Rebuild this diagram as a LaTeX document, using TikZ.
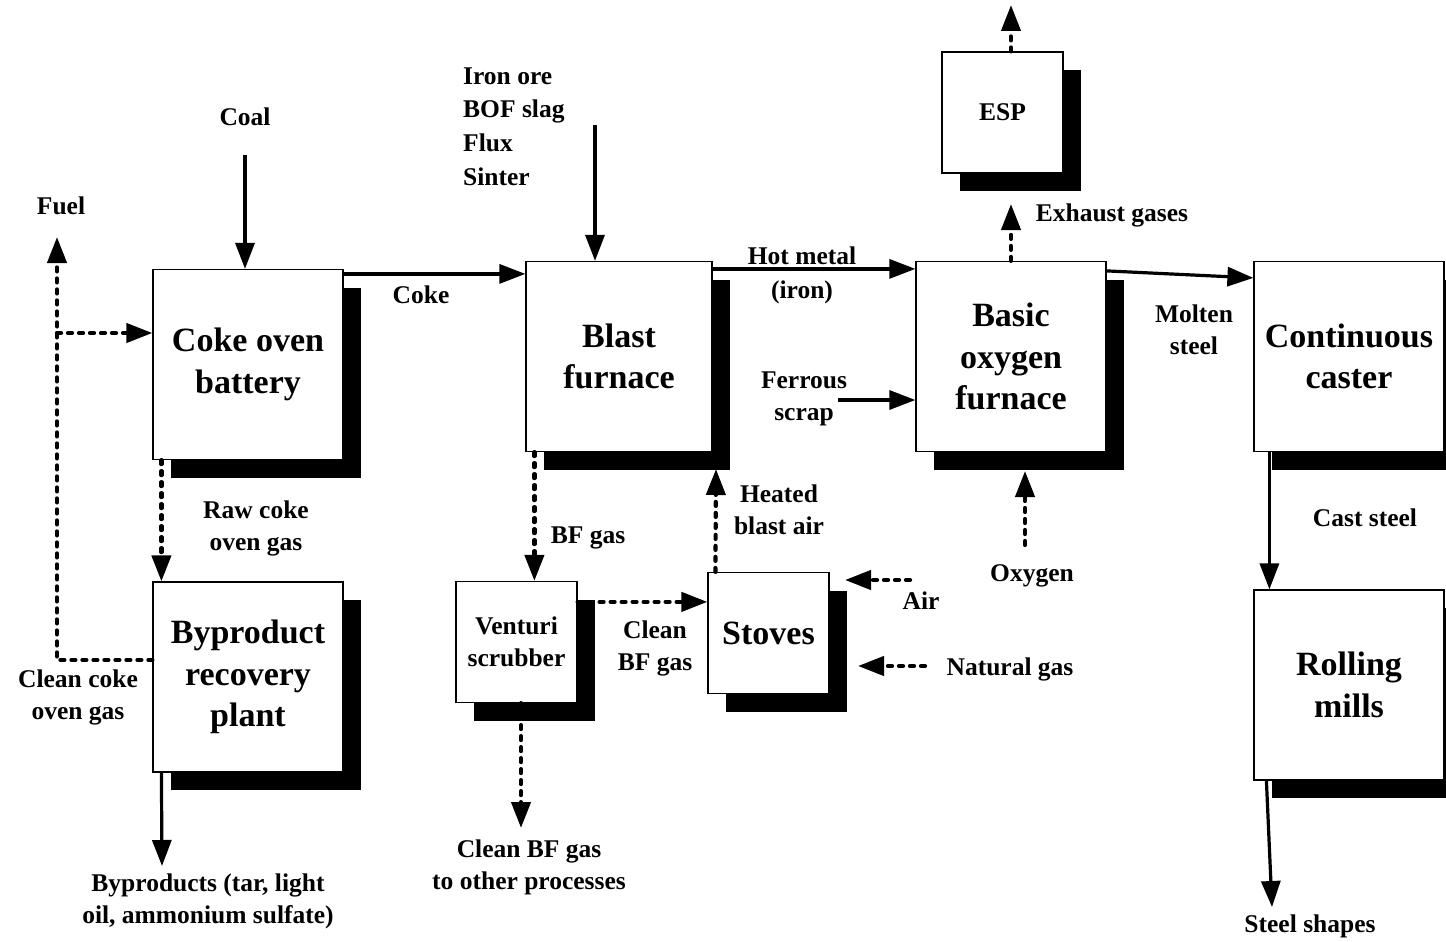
\documentclass[tikz,border=0pt]{standalone}
\usepackage{fontspec}
\setmainfont{Liberation Serif}
\usetikzlibrary{arrows.meta,shadows}
\newcommand\boxfont{\fontsize{34}{41.5}\selectfont\bfseries}
\newcommand\lblfont{\fontsize{25.5}{32}\selectfont\bfseries}
\begin{document}
\begin{tikzpicture}[x=1pt, y=-1pt,
  unit/.style={draw, line width=1.2pt, fill=white, align=center, inner sep=0pt,
    minimum width=190pt, minimum height=190pt, font=\boxfont,
    drop shadow={shadow xshift=18pt, shadow yshift=-18pt, fill=black, opacity=1}},
  small/.style={unit, minimum width=121pt, minimum height=121pt},
  lbl/.style={align=center, inner sep=0pt, font=\lblfont},
  flow/.style={line width=3.2pt, -{Triangle[length=26pt, width=19pt]}},
  gasflow/.style={flow, line width=4.2pt, dash pattern=on 4pt off 7pt, line cap=round}]
  \useasboundingbox (0,0) rectangle (1446,942);
  % process units
  \node[unit] (cob) at (248,364.5) {Coke oven\\battery};
  \node[unit] (brp) at (248,677) {Byproduct\\recovery\\plant};
  \node[unit, minimum width=186pt] (bf) at (619,356.5) {Blast\\furnace};
  \node[small, font=\lblfont] (vs) at (516.5,642) {Venturi\\scrubber};
  \node[small] (st) at (768.5,633) {Stoves};
  \node[small, font=\lblfont] (esp) at (1002.5,112.5) {ESP};
  \node[unit] (bof) at (1011,356.5) {Basic\\oxygen\\furnace};
  \node[unit] (cc) at (1349,356.5) {Continuous\\caster};
  \node[unit] (rm) at (1349,685) {Rolling\\mills};
  % stream labels
  \node[lbl] (coal) at (245,117) {Coal};
  \node[lbl] (fuel) at (61,206) {Fuel};
  \node[lbl] (ccog) at (78,697) {Clean coke\\oven gas};
  \node[lbl] (rcog) at (256,528) {Raw coke\\oven gas};
  \node[lbl] (coke) at (421,295) {Coke};
  \node[lbl, align=left, anchor=west, font=\fontsize{25.5}{33.7}\selectfont\bfseries] (ore) at (463,126.5)
      {Iron ore\\BOF slag\\Flux\\Sinter};
  \node[lbl, font=\fontsize{25.5}{34}\selectfont\bfseries] (hm) at (802,275) {Hot metal\\(iron)};
  \node[lbl] (fs) at (804,399) {Ferrous\\scrap};
  \node[lbl] (exh) at (1112,215) {Exhaust gases};
  \node[lbl] (oxy) at (1032,576) {Oxygen};
  \node[lbl] (ms) at (1194,330) {Molten\\steel};
  \node[lbl] (cs) at (1365,518) {Cast steel};
  \node[lbl] (ssh) at (1310,926) {Steel shapes};
  \node[lbl] (byp) at (208,901.5) {Byproducts (tar, light\\oil, ammonium sulfate)};
  \node[lbl] (bfg) at (588,538) {BF gas};
  \node[lbl] (cbfg) at (655,648) {Clean\\BF gas};
  \node[lbl] (cbfo) at (529,867.5) {Clean BF gas\\to other processes};
  \node[lbl] (hba) at (779,510) {Heated\\blast air};
  \node[lbl] (air) at (921,601) {Air};
  \node[lbl] (ng) at (1010,669) {Natural gas};
  % free ends
  \coordinate (coalin) at (245,155);
  \coordinate (fuelout) at (57,237);
  \coordinate (fuelbr) at (57,333);
  \coordinate (orein) at (595,125);
  \coordinate (scrapin) at (838,400);
  \coordinate (exhtip) at (1011,204);
  \coordinate (espout) at (1011,5);
  \coordinate (oxyin) at (1025,545);
  \coordinate (oxytip) at (1025,471);
  \coordinate (shapetip) at (1272,907);
  \coordinate (byptip) at (162,866);
  \coordinate (cbftip) at (521,828);
  \coordinate (hbatip) at (716,469);
  \coordinate (airin) at (910,580);
  \coordinate (airtip) at (845,580);
  \coordinate (ngin) at (925,666);
  \coordinate (ngtip) at (858,666);
  % solid flows
  \draw[flow] (coalin) -- (coalin |- cob.north);
  \draw[flow] ([yshift=-5pt]cob.north east) -- ([yshift=-5pt]cob.north east -| bf.west);
  \draw[flow] (orein) -- (orein |- bf.north);
  \draw[flow] ([yshift=-8pt]bf.north east) -- ([yshift=-8pt]bf.north east -| bof.west);
  \draw[flow] (scrapin) -- (scrapin -| bof.west);
  \draw[flow] ([yshift=-10pt]bof.north east) -- ([yshift=-17pt]cc.north west);
  \draw[flow] ([xshift=16pt]cc.south west) -- ([xshift=16pt]rm.north west);
  \draw[flow] ([xshift=13pt]rm.south west) -- (shapetip);
  \draw[flow] ([xshift=9pt]brp.south west) -- (byptip);
  % gas flows
  \draw[gasflow] ([yshift=17pt]brp.west) -| (fuelout);
  \draw[gasflow] (fuelbr) -- (fuelbr -| cob.west);
  \draw[gasflow] ([xshift=9pt]cob.south west) -- ([xshift=9pt]brp.north west);
  \draw[gasflow] ([xshift=9pt]bf.south west) -- ([xshift=9pt]bf.south west |- vs.north);
  \draw[gasflow] ([yshift=-21pt]vs.north east) -- ([yshift=-21pt]vs.north east -| st.west);
  \draw[gasflow] ([xshift=4.5pt]vs.south) -- (cbftip);
  \draw[gasflow] ([xshift=8pt]st.north west) -- (hbatip);
  \draw[gasflow] (airin) -- (airtip);
  \draw[gasflow] (ngin) -- (ngtip);
  \draw[gasflow] (bof.north) -- (exhtip);
  \draw[gasflow] (esp.north -| bof.north) -- (espout);
  \draw[gasflow] (oxyin) -- (oxytip);
\end{tikzpicture}
\end{document}
